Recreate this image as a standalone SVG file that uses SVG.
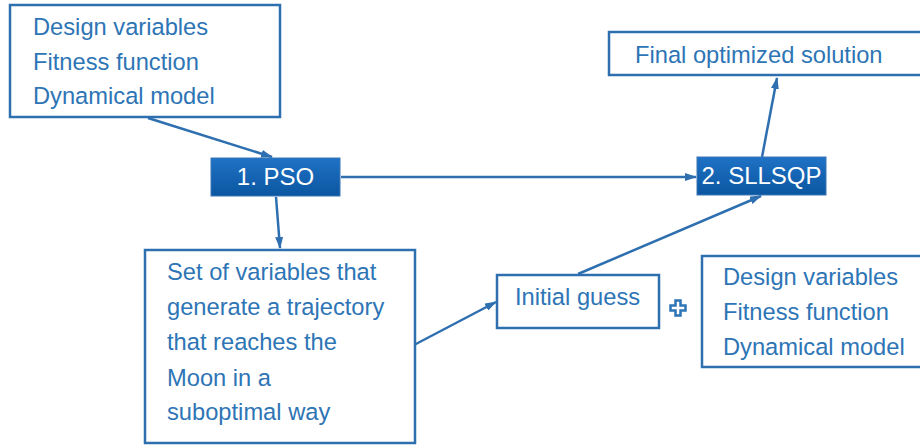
<svg xmlns="http://www.w3.org/2000/svg" width="920" height="445" viewBox="0 0 920 445">
<defs>
<linearGradient id="bg" x1="0" y1="0" x2="0" y2="1">
<stop offset="0" stop-color="#1f72c6"/>
<stop offset="1" stop-color="#0b56a0"/>
</linearGradient>
<marker id="arr" viewBox="0 0 12 8" refX="11" refY="4" markerWidth="12" markerHeight="8" orient="auto" markerUnits="userSpaceOnUse">
<path d="M0,0 L12,4 L0,8 z" fill="#2e6fb0"/>
</marker>
</defs>
<style>
.box{fill:#fff;stroke:#2e6fb0;stroke-width:2.5}
.t{font-family:"Liberation Sans",Arial,sans-serif;font-size:23.7px;fill:#2e75b6}
.w{font-family:"Liberation Sans",Arial,sans-serif;font-size:24px;fill:#fff}
.solid{fill:url(#bg);stroke:#3a78b8;stroke-width:1}
.c{stroke:#2e6fb0;stroke-width:2.5;fill:none;marker-end:url(#arr)}
</style>
<rect width="920" height="445" fill="#fff"/>
<g id="connectors">
<line class="c" x1="148" y1="118" x2="272" y2="157"/>
<line class="c" x1="276" y1="197" x2="280" y2="248"/>
<line class="c" x1="341" y1="177" x2="696" y2="177"/>
<line class="c" x1="762" y1="157" x2="777" y2="78"/>
<line class="c" x1="414" y1="345" x2="496" y2="302"/>
<line class="c" x1="578" y1="274" x2="761" y2="196"/>
</g>
<g id="inputs1">
<rect class="box" x="10" y="5" width="270" height="112"/>
<text class="t" x="33" y="35">Design variables</text>
<text class="t" x="33" y="70">Fitness function</text>
<text class="t" x="33" y="104">Dynamical model</text>
</g>
<g id="pso">
<rect class="solid" x="211" y="158" width="129" height="38"/>
<text class="w" x="275.5" y="185" text-anchor="middle">1. PSO</text>
</g>
<g id="sllsqp">
<rect class="solid" x="697" y="157" width="129" height="38"/>
<text class="w" x="761.5" y="184" text-anchor="middle">2. SLLSQP</text>
</g>
<g id="final">
<rect class="box" x="609" y="32" width="320" height="43"/>
<text class="t" x="635" y="63">Final optimized solution</text>
</g>
<g id="setvars">
<rect class="box" x="145" y="250" width="270" height="193"/>
<text class="t" x="167" y="280">Set of variables that</text>
<text class="t" x="167" y="315">generate a trajectory</text>
<text class="t" x="167" y="350">that reaches the</text>
<text class="t" x="167" y="386">Moon in a</text>
<text class="t" x="167" y="420">suboptimal way</text>
</g>
<g id="initial">
<rect class="box" x="497" y="275" width="162" height="53"/>
<text class="t" x="515" y="305">Initial guess</text>
</g>
<g id="plus">
<path d="M675.5,300.5 h5 v5 h5 v5 h-5 v5 h-5 v-5 h-5 v-5 h5 z" fill="#fff" stroke="#2e75b6" stroke-width="2.5"/>
</g>
<g id="inputs2">
<rect class="box" x="702" y="256" width="230" height="111"/>
<text class="t" x="723" y="285">Design variables</text>
<text class="t" x="723" y="320">Fitness function</text>
<text class="t" x="723" y="355">Dynamical model</text>
</g>
</svg>
